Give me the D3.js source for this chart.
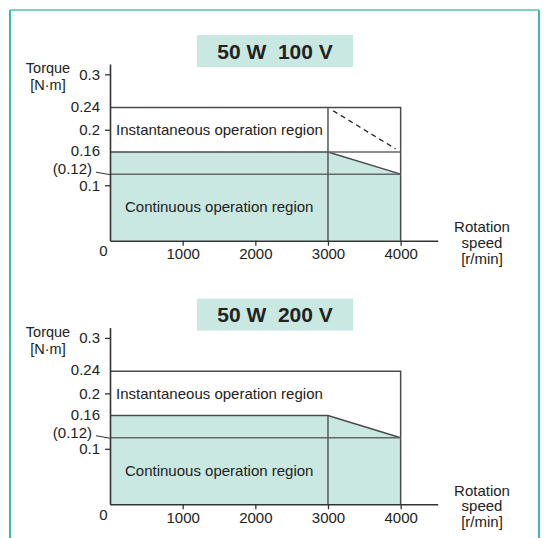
<!DOCTYPE html>
<html>
<head>
<meta charset="utf-8">
<script src="https://cdn.jsdelivr.net/npm/d3@7"></script>
<style>
  html, body { margin: 0; padding: 0; background: #fff; }
  svg { display: block; font-family: "Liberation Sans", Arial, sans-serif; }
  .tick text { font-size: 15px; fill: #222; }
</style>
</head>
<body>
<div id="chart"></div>
<script>
// panel titles
const panelTitles = ['50 W  100 V', '50 W  200 V'];

// speed [r/min] and torque [N·m] break points
const speedPoints = [0, 3000, 4000];
const continuousTorque = [0.16, 0.16, 0.12];
const instantTorque = [0.24, 0.24, 0.24];

// 100 V only: instantaneous limit drops above 3000 r/min (dashed)
const dashSpeed = [3000, 4000];
const dashTorque = [0.24, 0.16];

// axis ticks
const xTicks = [1000, 2000, 3000, 4000];
const yTicks = [0.1, 0.2, 0.3];
const extraYLabels = ['0.24', '0.16'];
const ratedLabel = '(0.12)';

const W = 547, H = 538;
const fillColor = '#c9e8e1';
const lineColor = '#4a4a4a';
const textColor = '#222';

const svg = d3.select('#chart').append('svg')
    .attr('width', W)
    .attr('height', H);

// outer frame
svg.append('line')
    .attr('x1', 10).attr('x2', 539).attr('y1', 10).attr('y2', 10)
    .attr('stroke', '#7dd3c1').attr('stroke-width', 2);
svg.append('path')
    .attr('d', 'M10,10V540M539,10V540')
    .attr('fill', 'none')
    .attr('stroke', '#3cbca2').attr('stroke-width', 2);

function drawPanel(offsetY, title, is100V) {
    const g = svg.append('g').attr('transform', `translate(0, ${offsetY})`);

    const x = d3.scaleLinear().domain([0, 4510]).range([110, 437.7]);
    const y = d3.scaleLinear().domain([0, 0.3186]).range([240.7, 64]);

    // title box
    g.append('rect')
        .attr('x', 197).attr('y', 35)
        .attr('width', 156).attr('height', 32)
        .attr('fill', fillColor);
    g.append('text')
        .attr('x', 275).attr('y', 58.5)
        .attr('text-anchor', 'middle')
        .style('white-space', 'pre')
        .attr('font-size', 21)
        .attr('font-weight', 'bold')
        .attr('fill', textColor)
        .text(title);

    // continuous region fill
    const contPts = speedPoints.map((s, i) => [s, continuousTorque[i]]);
    const area = d3.area()
        .x(d => x(d[0]))
        .y0(y(0))
        .y1(d => y(d[1]));
    g.append('path')
        .datum(contPts)
        .attr('d', area)
        .attr('fill', fillColor);

    const line = d3.line().x(d => x(d[0])).y(d => y(d[1]));
    const sMax = speedPoints[speedPoints.length - 1];
    const sKnee = speedPoints[1];
    const rated = continuousTorque[continuousTorque.length - 1];
    const kneeT = continuousTorque[1];
    const peak = instantTorque[0];

    const strokes = g.append('g')
        .attr('fill', 'none')
        .attr('stroke', lineColor)
        .attr('stroke-width', 1.5);

    // instantaneous box: top + right side
    strokes.append('path')
        .attr('d', line([[0, peak], [sMax, instantTorque[2]], [sMax, 0]]));

    // continuous limit
    strokes.append('path')
        .attr('d', line([[0, kneeT], [sKnee, kneeT], [sMax, rated]]));

    // rated torque line
    strokes.append('path')
        .attr('stroke', '#666')
        .attr('d', line([[0, rated], [sMax, rated]]));

    // vertical at knee speed
    strokes.append('path')
        .attr('stroke', '#555')
        .attr('d', line([[sKnee, is100V ? peak : kneeT], [sKnee, 0]]));

    if (is100V) {
        // 0.16 line continues to 4000
        strokes.append('path')
            .attr('stroke', '#666')
            .attr('d', line([[sKnee, kneeT], [sMax, kneeT]]));
        // dashed instantaneous limit
        const x1 = x(dashSpeed[0]), y1 = y(dashTorque[0]);
        const x2 = x(dashSpeed[1]), y2 = y(dashTorque[1]);
        const len = Math.hypot(x2 - x1, y2 - y1);
        const ux = (x2 - x1) / len, uy = (y2 - y1) / len;
        strokes.append('line')
            .attr('x1', x1 + ux * 6).attr('y1', y1 + uy * 6)
            .attr('x2', x2 - ux * 6).attr('y2', y2 - uy * 6)
            .attr('stroke', '#222')
            .attr('stroke-width', 1.3)
            .attr('stroke-dasharray', '5,4');
    }

    // axes
    const xAxis = d3.axisBottom(x)
        .tickValues(xTicks)
        .tickSize(5)
        .tickSizeOuter(0)
        .tickPadding(3)
        .tickFormat(d3.format('d'));
    const yAxis = d3.axisLeft(y)
        .tickValues(yTicks)
        .tickSize(5)
        .tickSizeOuter(0)
        .tickPadding(5)
        .tickFormat(d => String(d));

    const gx = g.append('g')
        .attr('transform', `translate(0, ${y(0)})`)
        .call(xAxis);
    const gy = g.append('g')
        .attr('transform', `translate(${x(0)}, 0)`)
        .call(yAxis);
    [gx, gy].forEach(a => {
        a.selectAll('.domain').attr('stroke', '#333').attr('stroke-width', 1.6);
        a.selectAll('.tick line').attr('stroke', '#333').attr('stroke-width', 1.3);
        a.selectAll('.tick text').attr('fill', textColor).attr('font-family', null).attr('font-size', null);
    });

    // extra torque labels
    [peak, kneeT].forEach((v, i) => {
        g.append('text')
            .attr('x', 100).attr('y', y(v) - 1)
            .attr('dy', '0.35em')
            .attr('text-anchor', 'end')
            .attr('font-size', 15)
            .attr('fill', textColor)
            .text(extraYLabels[i]);
    });
    g.append('text')
        .attr('x', 92).attr('y', y(rated) - 5)
        .attr('dy', '0.35em')
        .attr('text-anchor', 'end')
        .attr('font-size', 15)
        .attr('fill', textColor)
        .text(ratedLabel);
    g.append('line')
        .attr('x1', 96).attr('y1', y(rated) - 2)
        .attr('x2', x(0)).attr('y2', y(rated) + 0.5)
        .attr('stroke', '#333').attr('stroke-width', 1);

    // origin label
    g.append('text')
        .attr('x', 103.5).attr('y', y(0) + 10)
        .attr('dy', '0.35em')
        .attr('text-anchor', 'middle')
        .attr('font-size', 15)
        .attr('fill', textColor)
        .text('0');

    // axis titles
    const yTitle = g.append('text')
        .attr('text-anchor', 'middle')
        .attr('font-size', 14.5)
        .attr('fill', textColor);
    yTitle.append('tspan').attr('x', 48).attr('y', 73).text('Torque');
    yTitle.append('tspan').attr('x', 48).attr('y', 90).text('[N·m]');

    const xTitle = g.append('text')
        .attr('text-anchor', 'middle')
        .attr('font-size', 15)
        .attr('fill', textColor);
    xTitle.append('tspan').attr('x', 482).attr('y', 232).text('Rotation');
    xTitle.append('tspan').attr('x', 482).attr('y', 247.5).text('speed');
    xTitle.append('tspan').attr('x', 482).attr('y', 263.5).text('[r/min]');

    // region labels
    g.append('text')
        .attr('x', x(0) + 6).attr('y', y(0.2) + 5.5)
        .attr('font-size', 15)
        .attr('fill', textColor)
        .text('Instantaneous operation region');
    g.append('text')
        .attr('x', x(0) + 15).attr('y', y(0.2) + 82.5)
        .attr('font-size', 15)
        .attr('fill', textColor)
        .text('Continuous operation region');
}

drawPanel(0, panelTitles[0], true);
drawPanel(263.6, panelTitles[1], false);
</script>
</body>
</html>
